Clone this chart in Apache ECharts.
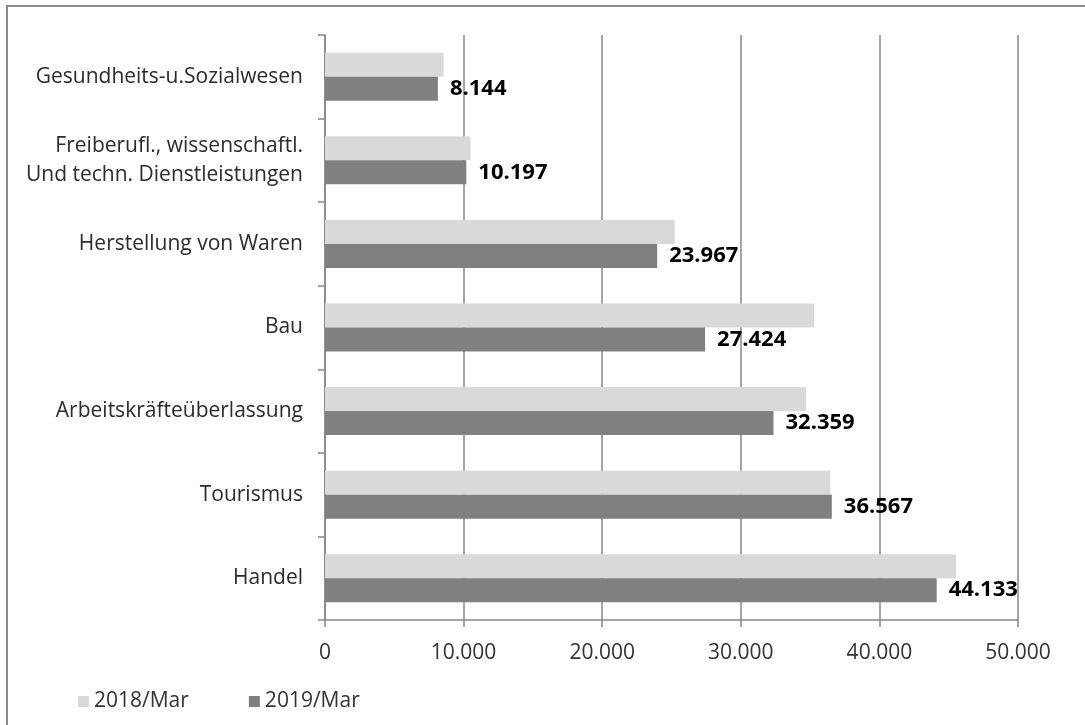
<!DOCTYPE html>
<html>
<head>
<meta charset="utf-8">
<script src="https://cdn.jsdelivr.net/npm/echarts@6/dist/echarts.min.js"></script>
<style>
  html, body { margin: 0; padding: 0; background: #ffffff; }
  #chart { width: 1085px; height: 725px; }
</style>
</head>
<body>
<div id="chart"></div>
<script>
// Sectors, listed from top to bottom
const categories = [
  'Gesundheits-u.Sozialwesen',
  'Freiberufl., wissenschaftl.\nUnd techn. Dienstleistungen',
  'Herstellung von Waren',
  'Bau',
  'Arbeitskräfteüberlassung',
  'Tourismus',
  'Handel'
];
const seriesNames = ['2018/Mar', '2019/Mar'];
const values2018 = [8550, 10500, 25230, 35300, 34700, 36460, 45530];
const values2019 = [8144, 10197, 23967, 27424, 32359, 36567, 44133];
const xTicks = { min: 0, max: 50000, interval: 10000 };

const FONT = '"Open Sans", "Noto Sans", sans-serif';
const GRID_COLOR = '#878787';

// German thousands separator: 44133 -> 44.133
function fmt(v) {
  return String(Math.round(v)).replace(/\B(?=(\d{3})+(?!\d))/g, '.');
}

const chart = echarts.init(document.getElementById('chart'), null, { renderer: 'canvas' });

chart.setOption({
  animation: false,
  backgroundColor: '#ffffff',
  textStyle: { fontFamily: FONT },
  graphic: [{
    type: 'rect',
    silent: true,
    shape: { x: 7, y: 6, width: 1200, height: 1000 },
    style: { fill: null, stroke: '#8a8a8a', lineWidth: 2 }
  }],
  grid: { left: 325, right: 67, top: 35, bottom: 105, containLabel: false },
  legend: {
    data: seriesNames,
    left: 73,
    top: 686,
    itemWidth: 11,
    itemHeight: 11,
    itemGap: 60,
    icon: 'rect',
    textStyle: { fontFamily: FONT, fontSize: 21, color: '#333333' }
  },
  xAxis: {
    type: 'value',
    min: xTicks.min,
    max: xTicks.max,
    interval: xTicks.interval,
    axisLine: { show: true, lineStyle: { color: GRID_COLOR, width: 1.5 } },
    axisTick: { show: true, length: 7, lineStyle: { color: GRID_COLOR, width: 1.5 } },
    splitLine: { show: true, lineStyle: { color: GRID_COLOR, width: 1.5 } },
    axisLabel: {
      margin: 23,
      fontFamily: FONT,
      fontSize: 21,
      color: '#333333',
      formatter: fmt
    }
  },
  yAxis: {
    type: 'category',
    inverse: true,
    data: categories,
    axisLine: { show: true, lineStyle: { color: GRID_COLOR, width: 1.5 } },
    axisTick: { show: true, length: 7, lineStyle: { color: GRID_COLOR, width: 1.5 } },
    axisLabel: {
      margin: 22,
      fontFamily: FONT,
      fontSize: 21,
      lineHeight: 29,
      color: '#2b2b2b',
      align: 'right'
    }
  },
  series: [
    {
      name: seriesNames[0],
      type: 'bar',
      data: values2018,
      barWidth: 24,
      barGap: '0%',
      itemStyle: { color: '#d9d9d9' }
    },
    {
      name: seriesNames[1],
      type: 'bar',
      data: values2019,
      barWidth: 24,
      barGap: '0%',
      itemStyle: { color: '#808080' },
      label: {
        show: true,
        position: 'right',
        distance: 12,
        fontFamily: FONT,
        fontSize: 22,
        fontWeight: 'bold',
        color: '#000000',
        formatter: p => fmt(p.value)
      }
    }
  ]
});
</script>
</body>
</html>
